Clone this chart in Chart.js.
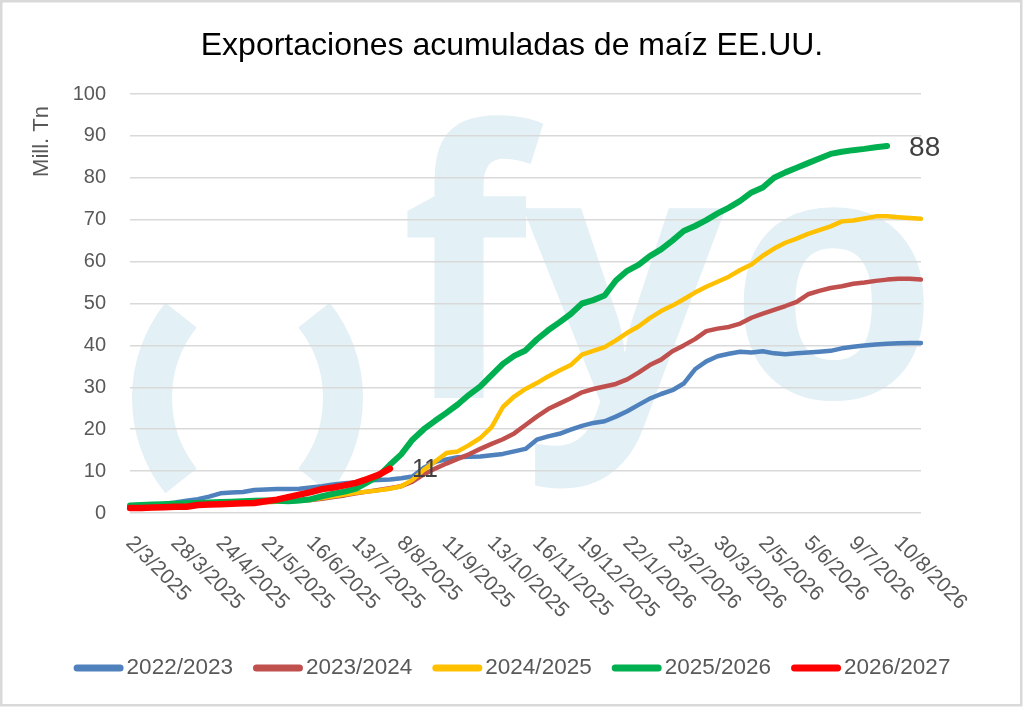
<!DOCTYPE html>
<html>
<head>
<meta charset="utf-8">
<script src="https://cdn.jsdelivr.net/npm/chart.js@4.4.1/dist/chart.umd.min.js"></script>
<style>
html,body{margin:0;padding:0;background:#fff}
#wrap{width:1024px;height:707px;position:relative}
</style>
</head>
<body>
<div id="wrap"><canvas id="c"></canvas></div>
<script>
const chartTitle = 'Exportaciones acumuladas de maíz EE.UU.';
const yAxisTitle = 'Mill. Tn';
const tickLabels = ['2/3/2025','28/3/2025','24/4/2025','21/5/2025','16/6/2025','13/7/2025','8/8/2025','11/9/2025','13/10/2025','16/11/2025','19/12/2025','22/1/2026','23/2/2026','30/3/2026','2/5/2026','5/6/2026','9/7/2026','10/8/2026'];
const pointsPerTick = 4;
const nPoints = 71;

const seriesNames = ['2022/2023','2023/2024','2024/2025','2025/2026','2026/2027'];
const seriesColors = ['#4f81bd','#c0504d','#ffc000','#00b050','#ff0000'];

const s2022 = [1.7,1.8,2.0,2.2,2.5,2.9,3.3,3.9,4.7,4.9,
  5.0,5.5,5.6,5.7,5.7,5.8,6.1,6.4,6.8,7.1,
  7.3,7.8,7.9,8.0,8.3,8.7,10.8,12.2,12.8,13.3,
  13.4,13.5,13.8,14.1,14.7,15.3,17.5,18.3,18.9,19.9,
  20.8,21.5,21.9,23.0,24.3,25.8,27.3,28.4,29.3,30.9,
  34.3,36.2,37.4,38.0,38.5,38.3,38.6,38.1,37.9,38.1,
  38.3,38.5,38.7,39.3,39.7,40.0,40.2,40.4,40.5,40.6,40.6];
const s2023 = [1.5,1.6,1.6,1.7,1.8,1.9,2.0,2.1,2.2,2.3,
  2.4,2.5,2.6,2.7,2.8,2.9,3.1,3.4,3.8,4.2,
  4.7,5.1,5.5,5.9,6.4,7.5,9.2,10.6,11.8,12.9,
  14.0,15.3,16.5,17.6,19.0,21.0,23.0,24.8,26.1,27.4,
  28.8,29.6,30.2,30.8,31.9,33.5,35.3,36.6,38.6,40.0,
  41.5,43.4,44.0,44.4,45.2,46.6,47.6,48.5,49.4,50.4,
  52.2,53.0,53.7,54.1,54.7,55.0,55.4,55.7,55.9,55.9,55.7];
const s2024 = [1.5,1.6,1.7,1.8,1.9,2.0,2.1,2.2,2.3,2.4,
  2.5,2.6,2.6,2.7,2.8,2.9,3.2,3.6,4.0,4.4,
  4.8,5.1,5.4,5.8,6.4,7.9,10.3,12.3,14.3,14.7,
  16.2,17.9,20.5,25.3,27.8,29.6,31.0,32.6,34.0,35.3,
  37.8,38.7,39.6,41.2,43.0,44.5,46.5,48.2,49.5,51.0,
  52.6,54.0,55.2,56.4,58.0,59.3,61.4,63.1,64.5,65.5,
  66.6,67.5,68.4,69.6,69.8,70.3,70.8,70.8,70.6,70.4,70.2];
const s2025 = [1.8,1.9,2.0,2.1,2.2,2.3,2.4,2.5,2.6,2.7,
  2.8,2.9,3.0,2.9,2.8,3.0,3.3,4.0,4.6,5.1,
  5.8,7.3,8.8,11.5,14.0,17.5,20.0,22.0,23.9,25.9,
  28.2,30.2,32.9,35.6,37.5,38.8,41.4,43.6,45.5,47.5,
  50.0,50.8,51.9,55.5,57.8,59.2,61.3,62.9,65.0,67.3,
  68.5,69.9,71.5,72.9,74.5,76.5,77.7,80.0,81.3,82.4,
  83.5,84.6,85.7,86.2,86.6,86.9,87.3,87.6];
const s2026 = [1.2,1.2,1.3,1.4,1.5,1.5,1.9,2.0,2.1,2.2,
  2.3,2.4,2.8,3.2,3.8,4.4,5.0,5.7,6.1,6.6,
  7.2,8.1,9.1,10.6];

const seriesData = [s2022, s2023, s2024, s2025, s2026];
const seriesWidths = [4.5, 4.5, 4.5, 6, 6.5];
const labeledSeries = [3, 4];
const labelFontSizes = [28, 25];

const labels = Array.from({length: nPoints}, (_, i) => i % pointsPerTick === 0 ? (tickLabels[i / pointsPerTick] || '') : '');

const FONT = '"Liberation Sans", Arial, sans-serif';
const GRAY = '#595959';
const WM = '#e3f0f5';

function fitGlyph(ctx, ch, l, r, t, b) {
  ctx.save();
  ctx.font = 'bold 300px "Open Sans", "DejaVu Sans", sans-serif';
  const m = ctx.measureText(ch);
  const w = m.actualBoundingBoxLeft + m.actualBoundingBoxRight;
  const h = m.actualBoundingBoxAscent + m.actualBoundingBoxDescent;
  ctx.translate(l, t);
  ctx.scale((r - l) / w, (b - t) / h);
  ctx.textAlign = 'left';
  ctx.textBaseline = 'alphabetic';
  ctx.fillText(ch, m.actualBoundingBoxLeft, m.actualBoundingBoxAscent);
  ctx.restore();
}

const deco = {
  id: 'deco',
  beforeDraw(chart) {
    const ctx = chart.ctx;
    ctx.save();
    ctx.fillStyle = '#fff';
    ctx.fillRect(0, 0, chart.width, chart.height);
    ctx.fillStyle = WM;
    fitGlyph(ctx, 'f', 406, 545, 115, 398);
    fitGlyph(ctx, 'y', 523, 729, 208, 492);
    fitGlyph(ctx, 'o', 739, 925, 205, 403);
    ctx.strokeStyle = WM;
    ctx.lineWidth = 40;
    ctx.lineCap = 'butt';
    ctx.beginPath(); ctx.arc(285, 398, 133, Math.PI - 0.673, Math.PI + 0.673); ctx.stroke();
    ctx.beginPath(); ctx.arc(210, 398, 133, -0.673, 0.673); ctx.stroke();
    ctx.restore();
  },
  afterDatasetsDraw(chart) {
    const ctx = chart.ctx;
    ctx.save();
    ctx.fillStyle = '#404040';
    ctx.textAlign = 'left';
    ctx.textBaseline = 'middle';
    labeledSeries.forEach((k, j) => {
      const meta = chart.getDatasetMeta(k);
      const el = meta.data[meta.data.length - 1];
      const v = seriesData[k][seriesData[k].length - 1];
      ctx.font = labelFontSizes[j] + 'px ' + FONT;
      ctx.fillText(String(Math.round(v)), el.x + 22, el.y + 2);
    });
    ctx.restore();
  },
  afterDraw(chart) {
    const ctx = chart.ctx;
    ctx.save();
    // title
    ctx.fillStyle = '#000';
    ctx.font = '32px ' + FONT;
    ctx.textAlign = 'center';
    ctx.textBaseline = 'alphabetic';
    ctx.fillText(chartTitle, 512, 55);
    // y axis title
    ctx.save();
    ctx.fillStyle = GRAY;
    ctx.font = '22px ' + FONT;
    ctx.translate(42, 141.5);
    ctx.rotate(-Math.PI / 2);
    ctx.textAlign = 'center';
    ctx.textBaseline = 'middle';
    ctx.fillText(yAxisTitle, 0, 0);
    ctx.restore();
    // x tick labels (rotated clockwise)
    const xs = chart.scales.x;
    ctx.fillStyle = GRAY;
    ctx.font = '21px ' + FONT;
    ctx.textAlign = 'left';
    ctx.textBaseline = 'middle';
    tickLabels.forEach((t, j) => {
      const x = xs.getPixelForValue(j * pointsPerTick);
      ctx.save();
      ctx.translate(x - 1, 540);
      ctx.rotate(Math.PI / 4);
      ctx.fillText(t, 0, 0);
      ctx.restore();
    });
    // legend
    ctx.font = '22.5px ' + FONT;
    const sw = 50, gap = 3, spacing = 20, ly = 668;
    const widths = seriesNames.map(n => ctx.measureText(n).width);
    const total = widths.reduce((a, w) => a + sw + gap + w, 0) + spacing * (seriesNames.length - 1);
    let lx = (chart.width - total) / 2;
    seriesNames.forEach((n, k) => {
      ctx.strokeStyle = seriesColors[k];
      ctx.lineWidth = 7;
      ctx.lineCap = 'round';
      ctx.beginPath(); ctx.moveTo(lx + 3.5, ly); ctx.lineTo(lx + sw - 3.5, ly); ctx.stroke();
      ctx.fillStyle = GRAY;
      ctx.textAlign = 'left';
      ctx.textBaseline = 'middle';
      ctx.fillText(n, lx + sw + gap, ly);
      lx += sw + gap + widths[k] + spacing;
    });
    // frame
    ctx.strokeStyle = '#d9d9d9';
    ctx.lineWidth = 2.5;
    ctx.strokeRect(1.25, 1.25, 1020, 704);
    ctx.restore();
  }
};

new Chart(document.getElementById('c'), {
  type: 'line',
  data: {
    labels: labels,
    datasets: seriesNames.map((n, k) => ({
      label: n,
      data: seriesData[k],
      borderColor: seriesColors[k],
      backgroundColor: seriesColors[k],
      borderWidth: seriesWidths[k],
      pointRadius: 0,
      pointHoverRadius: 0,
      tension: 0,
      fill: false,
      borderCapStyle: 'round',
      borderJoinStyle: 'round',
      order: seriesNames.length - 1 - k
    }))
  },
  options: {
    responsive: true,
    maintainAspectRatio: false,
    animation: false,
    events: [],
    layout: { padding: { left: 30, top: 94, right: 103, bottom: 194 } },
    plugins: { legend: { display: false }, title: { display: false }, tooltip: { enabled: false } },
    scales: {
      x: {
        type: 'category',
        offset: false,
        grid: { display: false },
        border: { display: false },
        ticks: { display: false },
        afterFit(s) { s.height = 0; }
      },
      y: {
        min: 0, max: 100,
        ticks: { stepSize: 10, padding: 24, color: GRAY, font: { family: FONT, size: 20 } },
        grid: { color: '#d9d9d9', lineWidth: 1.5, drawTicks: false },
        border: { display: false },
        afterFit(s) { s.width = 100; }
      }
    }
  },
  plugins: [deco]
});
</script>
</body>
</html>
